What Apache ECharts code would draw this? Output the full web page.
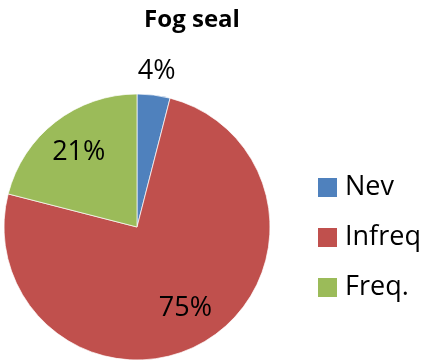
<!DOCTYPE html>
<html>
<head>
<meta charset="utf-8">
<script src="https://cdn.jsdelivr.net/npm/echarts@6/dist/echarts.min.js"></script>
<style>
  html, body { margin: 0; padding: 0; background: #fff; }
  #chart { width: 428px; height: 363px; }
</style>
</head>
<body>
<div id="chart"></div>
<script>
// data
const names = ['Nev', 'Infreq', 'Freq.'];
const values = [4, 75, 21];
const colors = ['#4F81BD', '#C0504D', '#9BBB59'];

const chart = echarts.init(document.getElementById('chart'));
const font = 'Open Sans';

// pie slices
const sliceData = names.map((n, i) => ({ name: n, value: values[i], itemStyle: { color: colors[i] } }));
// label-only rings (inside labels sit at half of the ring radius)
const innerLabels = names.map((n, i) => ({ name: n, value: values[i], label: { show: i !== 0 } }));
const outerLabels = names.map((n, i) => ({ name: n, value: values[i], label: { show: i === 0 } }));

const labelSeries = (radius, data) => ({
  type: 'pie',
  center: [137, 227],
  radius: radius,
  silent: true,
  percentPrecision: 0,
  itemStyle: { color: 'rgba(0,0,0,0)' },
  label: {
    position: 'inside',
    formatter: '{d}%',
    color: '#000',
    fontFamily: font,
    fontSize: 27
  },
  labelLine: { show: false },
  emphasis: { disabled: true },
  data: data
});

var option = {
  animation: false,
  title: {
    text: 'Fog seal',
    left: 187,
    top: 3,
    textAlign: 'center',
    textStyle: { fontFamily: font, fontSize: 24, fontWeight: 'bold', color: '#000' }
  },
  legend: {
    orient: 'vertical',
    left: 311,
    top: 169,
    icon: 'rect',
    itemWidth: 21,
    itemHeight: 21,
    itemGap: 23,
    data: names,
    textStyle: { fontFamily: font, fontSize: 27, color: '#000', padding: [0, 0, 0, 2] }
  },
  series: [
    {
      type: 'pie',
      center: [137, 227],
      radius: 133,
      startAngle: 90,
      label: { show: false },
      labelLine: { show: false },
      itemStyle: { borderColor: '#fff', borderWidth: 0.7 },
      emphasis: { disabled: true },
      data: sliceData
    },
    labelSeries([0, 184], innerLabels),
    labelSeries([0, 308], outerLabels)
  ]
};
option && chart.setOption(option);
</script>
</body>
</html>
